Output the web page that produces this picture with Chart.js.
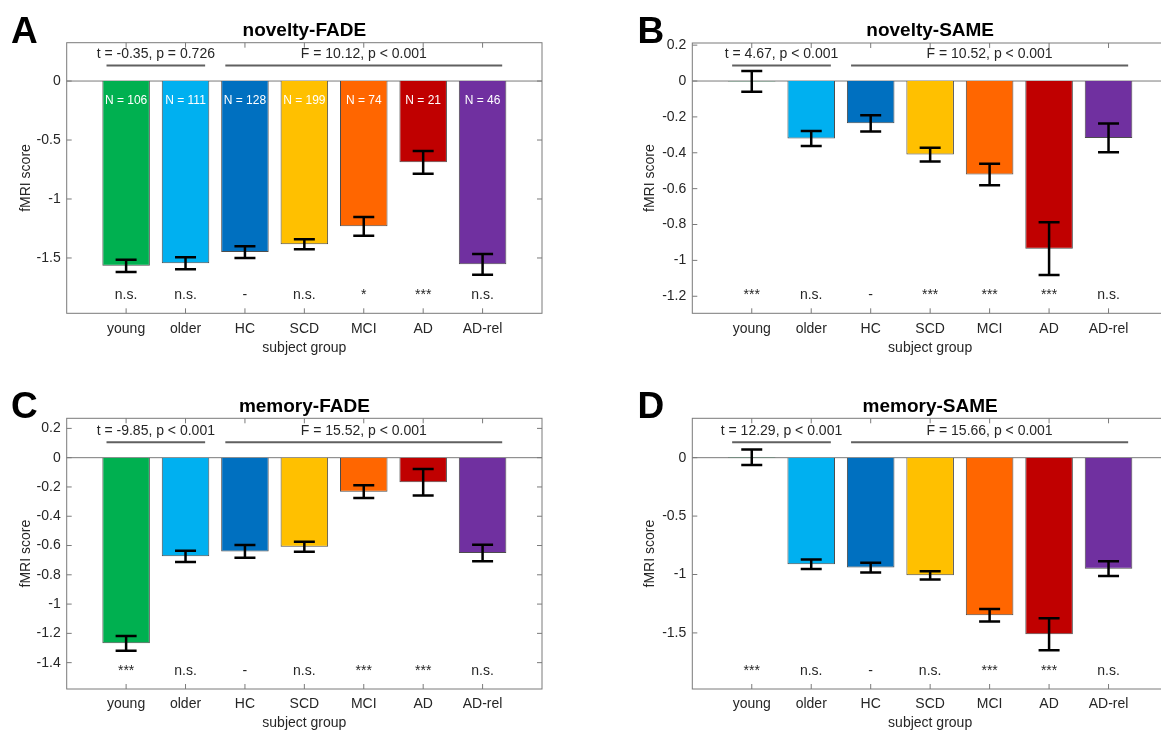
<!DOCTYPE html>
<html>
<head>
<meta charset="utf-8">
<script src="https://cdn.jsdelivr.net/npm/chart.js@4.4.1/dist/chart.umd.min.js"></script>
<style>
body { margin:0; width:1161px; height:730px; overflow:hidden; background:#fff; position:relative; }
canvas { position:absolute; }
</style>
</head>
<body>
<canvas id="panelA" width="580" height="374" style="left:0px;top:0px"></canvas>
<canvas id="panelB" width="600" height="374" style="left:580px;top:0px"></canvas>
<canvas id="panelC" width="580" height="384" style="left:0px;top:365px"></canvas>
<canvas id="panelD" width="600" height="384" style="left:580px;top:365px"></canvas>
<script>
// subject groups and bar colours
var groups = ['young', 'older', 'HC', 'SCD', 'MCI', 'AD', 'AD-rel'];
var groupColours = ['#00B050', '#00B0F0', '#0070C0', '#FFC000', '#FF6600', '#C00000', '#7030A0'];
var groupN = [106, 111, 128, 199, 74, 21, 46];

// novelty-FADE
var noveltyFadeMean = [-1.566, -1.545, -1.450, -1.384, -1.232, -0.689, -1.554];
var noveltyFadeSE = [0.052, 0.051, 0.050, 0.042, 0.079, 0.096, 0.088];
var noveltyFadeSig = ['n.s.', 'n.s.', '-', 'n.s.', '*', '***', 'n.s.'];
var noveltyFadeStats = ['t = -0.35, p = 0.726', 'F = 10.12, p < 0.001'];

// novelty-SAME
var noveltySameMean = [-0.002, -0.320, -0.236, -0.410, -0.521, -0.935, -0.317];
var noveltySameSE = [0.058, 0.042, 0.045, 0.038, 0.060, 0.147, 0.080];
var noveltySameSig = ['***', 'n.s.', '-', '***', '***', '***', 'n.s.'];
var noveltySameStats = ['t = 4.67, p < 0.001', 'F = 10.52, p < 0.001'];

// memory-FADE
var memoryFadeMean = [-1.268, -0.674, -0.640, -0.608, -0.232, -0.168, -0.651];
var memoryFadeSE = [0.050, 0.038, 0.043, 0.034, 0.044, 0.090, 0.056];
var memoryFadeSig = ['***', 'n.s.', '-', 'n.s.', '***', '***', 'n.s.'];
var memoryFadeStats = ['t = -9.85, p < 0.001', 'F = 15.52, p < 0.001'];

// memory-SAME
var memorySameMean = [0.004, -0.912, -0.941, -1.007, -1.349, -1.511, -0.950];
var memorySameSE = [0.067, 0.040, 0.042, 0.035, 0.053, 0.137, 0.063];
var memorySameSig = ['***', 'n.s.', '-', 'n.s.', '***', '***', 'n.s.'];
var memorySameStats = ['t = 12.29, p < 0.001', 'F = 15.66, p < 0.001'];

var FONT = '"Liberation Sans", Arial, sans-serif';
var TEXT = '#262626';
var AXIS = '#7a7a7a';

var makePlugin = function(p) {
	return {
		id: 'panelExtras',
		beforeDatasetsDraw: function(chart) {
			var ctx = chart.ctx, a = chart.chartArea;
			var y0 = chart.scales.y.getPixelForValue(0);
			ctx.save();
			ctx.strokeStyle = AXIS;
			ctx.lineWidth = 1;
			ctx.beginPath();
			ctx.moveTo(a.left, y0);
			ctx.lineTo(a.right, y0);
			ctx.stroke();
			ctx.restore();
		},
		afterDatasetsDraw: function(chart) {
			var ctx = chart.ctx, ys = chart.scales.y;
			var meta = chart.getDatasetMeta(0);
			ctx.save();
			ctx.strokeStyle = '#000';
			ctx.lineWidth = 2.5;
			meta.data.forEach(function(bar, i) {
				var hi = ys.getPixelForValue(p.mean[i] + p.se[i]);
				var lo = ys.getPixelForValue(p.mean[i] - p.se[i]);
				ctx.beginPath();
				ctx.moveTo(bar.x, hi); ctx.lineTo(bar.x, lo);
				ctx.moveTo(bar.x - 10.5, hi); ctx.lineTo(bar.x + 10.5, hi);
				ctx.moveTo(bar.x - 10.5, lo); ctx.lineTo(bar.x + 10.5, lo);
				ctx.stroke();
			});
			ctx.restore();
		},
		afterDraw: function(chart) {
			var ctx = chart.ctx, a = chart.chartArea;
			var xs = chart.scales.x, ys = chart.scales.y;
			var y0 = ys.getPixelForValue(0);
			ctx.save();
			// box
			ctx.strokeStyle = AXIS;
			ctx.lineWidth = 1;
			ctx.strokeRect(a.left, a.top, a.right - a.left, a.bottom - a.top);
			// inward ticks
			ctx.beginPath();
			for (var i = 1; i <= groups.length; i++) {
				var px = xs.getPixelForValue(i);
				ctx.moveTo(px, a.top); ctx.lineTo(px, a.top + 5);
				ctx.moveTo(px, a.bottom); ctx.lineTo(px, a.bottom - 5);
			}
			ys.ticks.forEach(function(t) {
				var py = ys.getPixelForValue(t.value);
				ctx.moveTo(a.left, py); ctx.lineTo(a.left + 5, py);
				ctx.moveTo(a.right, py); ctx.lineTo(a.right - 5, py);
			});
			ctx.stroke();

			// panel letter and title
			ctx.fillStyle = '#000';
			ctx.font = 'bold 37px ' + FONT;
			ctx.textAlign = 'left';
			ctx.textBaseline = 'alphabetic';
			ctx.fillText(p.letter, p.letterX, a.top);
			ctx.font = 'bold 19px ' + FONT;
			ctx.textAlign = 'center';
			ctx.textBaseline = 'middle';
			ctx.fillText(p.title, (a.left + a.right) / 2, p.titleY);

			// statistics brackets
			ctx.strokeStyle = '#606060';
			ctx.lineWidth = 2;
			ctx.beginPath();
			ctx.moveTo(xs.getPixelForValue(0.67), y0 - 15.5);
			ctx.lineTo(xs.getPixelForValue(2.33), y0 - 15.5);
			ctx.moveTo(xs.getPixelForValue(2.67), y0 - 15.5);
			ctx.lineTo(xs.getPixelForValue(7.33), y0 - 15.5);
			ctx.stroke();
			ctx.fillStyle = TEXT;
			ctx.font = '14px ' + FONT;
			ctx.fillText(p.stats[0], xs.getPixelForValue(1.5), y0 - 27);
			ctx.fillText(p.stats[1], xs.getPixelForValue(5), y0 - 27);

			// significance
			for (var j = 0; j < groups.length; j++) {
				ctx.fillText(p.sig[j], xs.getPixelForValue(j + 1), a.bottom - 18);
			}

			// group sizes
			if (p.showN) {
				ctx.fillStyle = '#fff';
				ctx.font = '12px ' + FONT;
				for (var k = 0; k < groups.length; k++) {
					ctx.fillText('N = ' + groupN[k], xs.getPixelForValue(k + 1), y0 + 20);
				}
			}
			ctx.restore();
		}
	};
};

var drawPanel = function(p) {
	var canvas = document.getElementById(p.id);
	var cw = canvas.width, ch = canvas.height;
	var points = p.mean.map(function(v, i) { return {x: i + 1, y: v}; });

	var config = {
		type: 'bar',
		data: {
			datasets: [{
				data: points,
				backgroundColor: groupColours,
				borderColor: '#4d4d4d',
				borderWidth: 1,
				barPercentage: 0.8,
				categoryPercentage: 1.0
			}]
		},
		options: {
			responsive: false,
			animation: false,
			layout: { padding: { left: 0, top: p.area.top, right: cw - p.area.right, bottom: 0 } },
			plugins: {
				legend: { display: false },
				tooltip: { enabled: false },
				title: { display: false }
			},
			scales: {
				x: {
					type: 'linear',
					min: 0,
					max: 8,
					offset: false,
					grid: { display: false, drawTicks: false, offset: false },
					border: { display: false },
					ticks: {
						stepSize: 1,
						autoSkip: false,
						maxRotation: 0,
						padding: 7,
						color: TEXT,
						font: { family: FONT, size: 14 },
						callback: function(v) { return groups[v - 1] || ''; }
					},
					title: {
						display: true,
						text: 'subject group',
						color: TEXT,
						font: { family: FONT, size: 14, lineHeight: 1.2 },
						padding: { top: 0, bottom: 26 - 8.4 }
					},
					afterFit: function(s) { s.height = ch - p.area.bottom; }
				},
				y: {
					min: p.yMin,
					max: p.yMax,
					grid: { display: false, drawTicks: false },
					border: { display: false },
					ticks: {
						stepSize: p.yStep,
						includeBounds: false,
						padding: 6,
						color: TEXT,
						font: { family: FONT, size: 14 },
						callback: function(v) { return String(Number(v.toFixed(2))); }
					},
					title: {
						display: true,
						text: 'fMRI score',
						color: TEXT,
						font: { family: FONT, size: 14, lineHeight: 1.2 },
						padding: { top: p.yTitleX - 8.4, bottom: 0 }
					},
					afterFit: function(s) { s.width = p.area.left; }
				}
			}
		},
		plugins: [makePlugin(p)]
	};
	return new Chart(canvas.getContext('2d'), config);
};

drawPanel({
	id: 'panelA', letter: 'A', letterX: 11, title: 'novelty-FADE', titleY: 30.7,
	area: { left: 66.7, top: 42.7, right: 542, bottom: 313.3 }, yTitleX: 26,
	yMin: -1.969, yMax: 0.325, yStep: 0.5,
	mean: noveltyFadeMean, se: noveltyFadeSE, sig: noveltyFadeSig, stats: noveltyFadeStats, showN: true
});
drawPanel({
	id: 'panelB', letter: 'B', letterX: 57.4, title: 'novelty-SAME', titleY: 30.7,
	area: { left: 112.3, top: 43, right: 588, bottom: 313.3 }, yTitleX: 70,
	yMin: -1.295, yMax: 0.212, yStep: 0.2,
	mean: noveltySameMean, se: noveltySameSE, sig: noveltySameSig, stats: noveltySameStats, showN: false
});
drawPanel({
	id: 'panelC', letter: 'C', letterX: 11, title: 'memory-FADE', titleY: 41.7,
	area: { left: 66.7, top: 53.3, right: 542, bottom: 324 }, yTitleX: 26,
	yMin: -1.58, yMax: 0.269, yStep: 0.2,
	mean: memoryFadeMean, se: memoryFadeSE, sig: memoryFadeSig, stats: memoryFadeStats, showN: false
});
drawPanel({
	id: 'panelD', letter: 'D', letterX: 57.4, title: 'memory-SAME', titleY: 41.7,
	area: { left: 112.3, top: 53.3, right: 588, bottom: 324 }, yTitleX: 70,
	yMin: -1.98, yMax: 0.337, yStep: 0.5,
	mean: memorySameMean, se: memorySameSE, sig: memorySameSig, stats: memorySameStats, showN: false
});
</script>
</body>
</html>
